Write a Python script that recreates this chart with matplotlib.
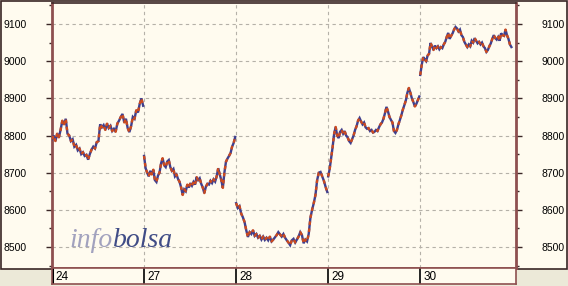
import numpy as np
import matplotlib
matplotlib.use("Agg")
import matplotlib.pyplot as plt
from matplotlib.patches import Rectangle

# ---------------- data ----------------
day_labels = ["24", "27", "28", "29", "30"]
yticks = [8500, 8600, 8700, 8800, 8900, 9000, 9100]

d24 = [8790, 8800, 8785, 8805, 8795, 8815, 8840, 8830, 8845, 8805, 8800, 8785, 8790, 8770,
       8775, 8760, 8765, 8750, 8755, 8745, 8748, 8735, 8750, 8762, 8770, 8765, 8782, 8785,
       8830, 8822, 8828, 8815, 8832, 8820, 8826, 8812, 8818, 8810, 8832, 8840, 8850, 8858,
       8835, 8845, 8820, 8809, 8825, 8850, 8845, 8868, 8862, 8885, 8900, 8880]
d27 = [8745, 8712, 8700, 8690, 8705, 8695, 8708, 8680, 8675, 8692, 8700, 8725, 8739, 8720,
       8715, 8730, 8734, 8715, 8705, 8710, 8690, 8695, 8683, 8675, 8660, 8640, 8655, 8650,
       8668, 8660, 8672, 8665, 8675, 8668, 8688, 8680, 8685, 8670, 8660, 8645, 8662, 8670,
       8668, 8678, 8672, 8682, 8676, 8690, 8712, 8695, 8680, 8659, 8700, 8729, 8738, 8745,
       8753, 8770, 8780, 8796]
d28 = [8618, 8605, 8610, 8590, 8580, 8567, 8545, 8527, 8540, 8535, 8545, 8530, 8535, 8525,
       8530, 8520, 8528, 8519, 8525, 8518, 8528, 8515, 8520, 8526, 8532, 8540, 8534, 8528,
       8535, 8525, 8518, 8512, 8505, 8518, 8522, 8512, 8520, 8528, 8540, 8532, 8510, 8520,
       8515, 8535, 8578, 8600, 8618, 8640, 8680, 8700, 8702, 8690, 8678, 8662, 8648]
d29 = [8690, 8710, 8740, 8770, 8805, 8823, 8800, 8793, 8810, 8815, 8805, 8812, 8800, 8795,
       8785, 8780, 8790, 8800, 8815, 8825, 8840, 8847, 8838, 8830, 8835, 8822, 8818, 8820,
       8812, 8815, 8808, 8810, 8815, 8812, 8822, 8830, 8835, 8845, 8860, 8877, 8865, 8850,
       8842, 8835, 8812, 8807, 8815, 8830, 8842, 8855, 8870, 8882, 8895, 8915, 8928, 8915,
       8900, 8890, 8878, 8885, 8895, 8905]
d30 = [8963, 8990, 9011, 9005, 9000, 9015, 9020, 9049, 9040, 9030, 9042, 9035, 9040, 9032,
       9038, 9035, 9045, 9052, 9065, 9076, 9060, 9068, 9075, 9085, 9092, 9088, 9080, 9085,
       9070, 9065, 9052, 9045, 9038, 9045, 9040, 9055, 9050, 9062, 9055, 9048, 9052, 9045,
       9050, 9040, 9035, 9025, 9030, 9040, 9048, 9060, 9070, 9062, 9058, 9065, 9055, 9075,
       9070, 9068, 9085, 9070, 9060, 9045, 9038]
days = [d24, d27, d28, d29, d30]

# ---------------- style ----------------
W, H = 568, 286
BEIGE = "#FFFBEF"
GREY = "#ECE9D8"
BROWN = "#8E5050"
DARK = "#3A2626"
UP = "#40408E"
DOWN = "#CC4A1E"

fig = plt.figure(figsize=(W / 100, H / 100), dpi=100, facecolor=GREY)

def fr(x0, y0, x1, y1):
    return [x0 / W, 1 - y1 / H, (x1 - x0) / W, (y1 - y0) / H]

# background panel
bg = fig.add_axes([0, 0, 1, 1])
bg.set_xlim(0, W)
bg.set_ylim(H, 0)
bg.axis("off")
bg.add_patch(Rectangle((0.5, 0.5), W - 1.5, 268, facecolor=BEIGE, edgecolor=DARK, lw=1.2))

# main axes
ax = fig.add_axes(fr(52, 3, 516, 268))
ax.set_facecolor(BEIGE)
XMAX = 5.04
ax.set_xlim(0, XMAX)
y_top = 9100 + 21 / 0.3717
y_bot = 8500 - 21 / 0.3717
ax.set_ylim(y_bot, y_top)

for i, vals in enumerate(days):
    v = np.asarray(vals, dtype=float)
    x = np.linspace(i, i + 0.99, len(v))
    ax.plot(x, v, color=UP, lw=1.7, zorder=3, solid_joinstyle="miter")
    ax.plot(x, v, color=DOWN, lw=1.7, ls=(0, (1.5, 1.5)), zorder=4)

# grid
for yv in yticks:
    ax.axhline(yv, color="#B5B1A8", lw=0.8, ls=(0, (3, 3)), zorder=1)
for i in range(1, len(day_labels)):
    ax.axvline(i, color="#B5B1A8", lw=0.8, ls=(0, (3, 3)), zorder=1)

ax.set_xticks([])
ax.set_yticks(yticks)
ax.set_yticks(np.arange(8450, 9151, 50), minor=True)
ax.tick_params(axis="y", which="major", left=True, right=True, labelleft=True, labelright=True,
               direction="out", length=4, width=1, color=DARK, labelsize=7.5, pad=14)
ax.tick_params(axis="y", which="minor", left=True, right=True, direction="out", length=2.5,
               width=1, color=DARK)
for lab in ax.get_yticklabels():
    lab.set_fontfamily("Liberation Sans")
for s in ["left", "right", "bottom"]:
    ax.spines[s].set_color(BROWN)
    ax.spines[s].set_linewidth(2)
ax.spines["top"].set_color(DARK)
ax.spines["top"].set_linewidth(1.2)

# watermark
ax.text(69, 247, "info", transform=bg.transData, fontsize=20, fontstyle="italic",
        family="Liberation Serif", color="#A2A2BE", va="baseline", ha="left", zorder=2)
ax.text(113, 247, "bolsa", transform=bg.transData, fontsize=20, fontstyle="italic",
        family="Liberation Serif", color="#404C86", va="baseline", ha="left", zorder=2)

# bottom date strip
sx = fig.add_axes(fr(52, 268, 516, 284))
sx.set_facecolor(BEIGE)
sx.set_xlim(0, XMAX)
sx.set_ylim(0, 1)
sx.set_xticks([])
sx.set_yticks([])
for s in sx.spines.values():
    s.set_color(BROWN)
    s.set_linewidth(1.2)
for i, lab in enumerate(day_labels):
    sx.axvline(i, color="black", lw=2.2 if i == 0 else 1.2)
    sx.text(i + 0.035, 0.45, lab, fontsize=8.5, family="Liberation Sans", va="center", ha="left",
            color="black")

fig.savefig("out.png", dpi=100, facecolor=GREY)
